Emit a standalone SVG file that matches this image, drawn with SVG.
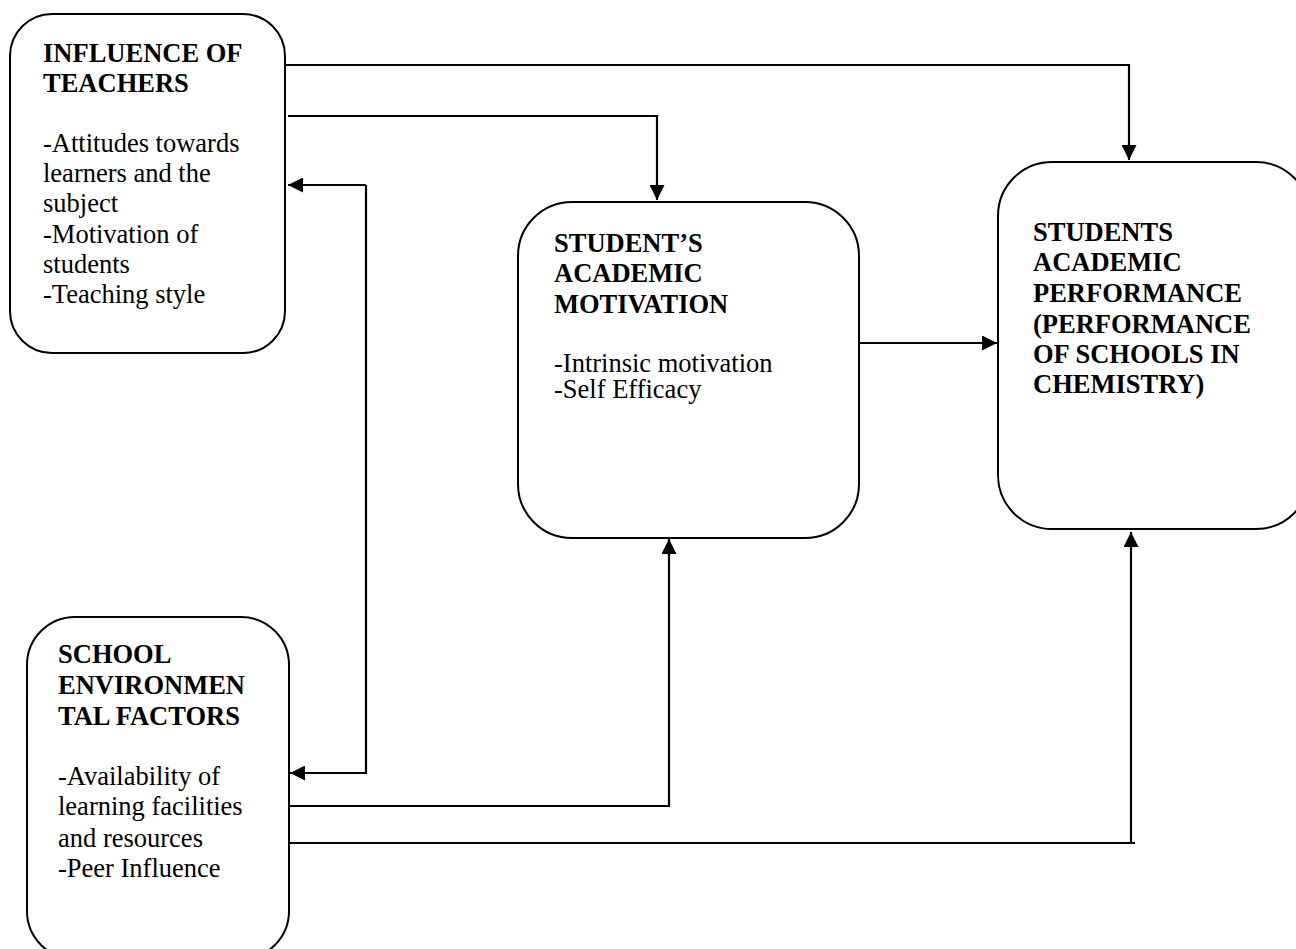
<svg xmlns="http://www.w3.org/2000/svg" width="1296" height="949" viewBox="0 0 1296 949">
<style>
.box{fill:#fff;stroke:#000;stroke-width:2}
.t{font-family:"Liberation Serif","Times New Roman",serif;font-size:26.5px;fill:#000}
.b{font-weight:bold}
.c{fill:none;stroke:#000;stroke-width:2.2}
</style>
<defs>
<marker id="ah" markerWidth="15" markerHeight="15" viewBox="0 0 15 15" refX="15" refY="7.5" orient="auto" markerUnits="userSpaceOnUse">
<path d="M0,0 L15,7.5 L0,15 Z" fill="#000"/>
</marker>
</defs>
<rect width="1296" height="949" fill="#fff"/>
<g id="connectors">
<path class="c" d="M286,65 H1129 V160" marker-end="url(#ah)"/>
<path class="c" d="M288,116 H657 V200" marker-end="url(#ah)"/>
<path class="c" d="M366,185 V773 H290" marker-end="url(#ah)"/>
<path class="c" d="M366,185 H288" marker-end="url(#ah)"/>
<path class="c" d="M858,343 H997" marker-end="url(#ah)"/>
<path class="c" d="M290,806 H669 V539" marker-end="url(#ah)"/>
<path class="c" d="M290,843 H1135"/>
<path class="c" d="M1131,843 V532" marker-end="url(#ah)"/>
</g>
<g id="teachers">
<rect class="box" x="10" y="14" width="275" height="339" rx="42" ry="42"/>
<text class="t b" x="43" y="62">INFLUENCE OF</text>
<text class="t b" x="43" y="92">TEACHERS</text>
<text class="t" x="43" y="152">-Attitudes towards</text>
<text class="t" x="43" y="182">learners and the</text>
<text class="t" x="43" y="212">subject</text>
<text class="t" x="43" y="243">-Motivation of</text>
<text class="t" x="43" y="273">students</text>
<text class="t" x="43" y="303">-Teaching style</text>
</g>
<g id="motivation">
<rect class="box" x="518" y="202" width="341" height="336" rx="54" ry="54"/>
<text class="t b" x="554" y="252">STUDENT’S</text>
<text class="t b" x="554" y="282">ACADEMIC</text>
<text class="t b" x="554" y="313">MOTIVATION</text>
<text class="t" x="554" y="372">-Intrinsic motivation</text>
<text class="t" x="554" y="398">-Self Efficacy</text>
</g>
<g id="performance">
<rect class="box" x="998" y="162" width="312" height="367" rx="54" ry="54"/>
<text class="t b" x="1033" y="241">STUDENTS</text>
<text class="t b" x="1033" y="271">ACADEMIC</text>
<text class="t b" x="1033" y="302">PERFORMANCE</text>
<text class="t b" x="1033" y="333">(PERFORMANCE</text>
<text class="t b" x="1033" y="363">OF SCHOOLS IN</text>
<text class="t b" x="1033" y="393">CHEMISTRY)</text>
</g>
<g id="environment">
<rect class="box" x="27" y="617" width="262" height="342" rx="48" ry="48"/>
<text class="t b" x="58" y="663">SCHOOL</text>
<text class="t b" x="58" y="694">ENVIRONMEN</text>
<text class="t b" x="58" y="725">TAL FACTORS</text>
<text class="t" x="58" y="785">-Availability of</text>
<text class="t" x="58" y="815">learning facilities</text>
<text class="t" x="58" y="847">and resources</text>
<text class="t" x="58" y="877">-Peer Influence</text>
</g>
</svg>
